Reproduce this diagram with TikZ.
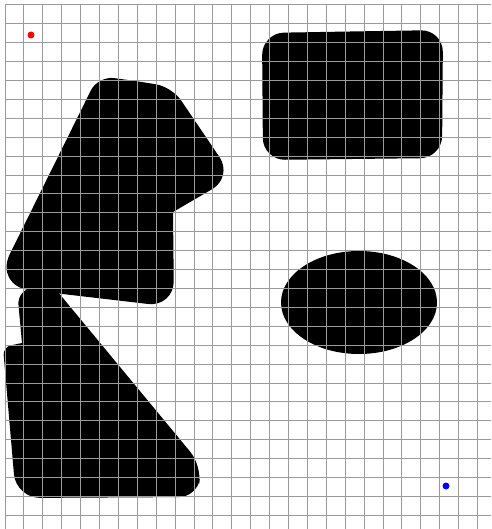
\documentclass[tikz,border=0pt]{standalone}
\begin{document}
\begin{tikzpicture}[x=1pt,y=-1pt,
  blob/.style={fill=black},
  gridline/.style={draw={rgb,255:red,155;green,155;blue,155},line width=1pt},
  dot/.style={circle,inner sep=0pt,minimum size=7pt}]
\useasboundingbox (0,0) rectangle (491,529);
\fill[white] (0,0) rectangle (491,529);
% shapes
\fill[blob] (136,81) [rounded corners=16] -- (172,87) [rounded corners=24] -- (233,177) [sharp corners] -- (173,212) [rounded corners=26] -- (174,307) [rounded corners=36] -- (-6,286) [rounded corners=16] -- (98,76) -- cycle;
\fill[blob] (35,287.5) [rounded corners=10] -- (53,286) [rounded corners=18] -- (202,466) -- (197,497) [rounded corners=24] -- (16,498) [rounded corners=8] -- (3,347) [sharp corners] -- (22,343) [rounded corners=16] -- (17,289) -- cycle;
\fill[blob] (350,31.5) [rounded corners=22] -- (443,30) -- (442,158) -- (263,160) -- (262,33) -- cycle;
\fill[blob] (359,302.5) ellipse [x radius=78, y radius=51.5];
% grid
\foreach \i in {0,...,25} \draw[gridline] ({5+18.9*\i},5) -- ({5+18.9*\i},529);
\foreach \j in {0,...,27} \draw[gridline] (5,{5+18.9*\j}) -- (491,{5+18.9*\j});
% dots
\node[dot,fill=red] (r) at (31,35) {};
\node[dot,fill=blue] (b) at (446,486) {};
\end{tikzpicture}
\end{document}
